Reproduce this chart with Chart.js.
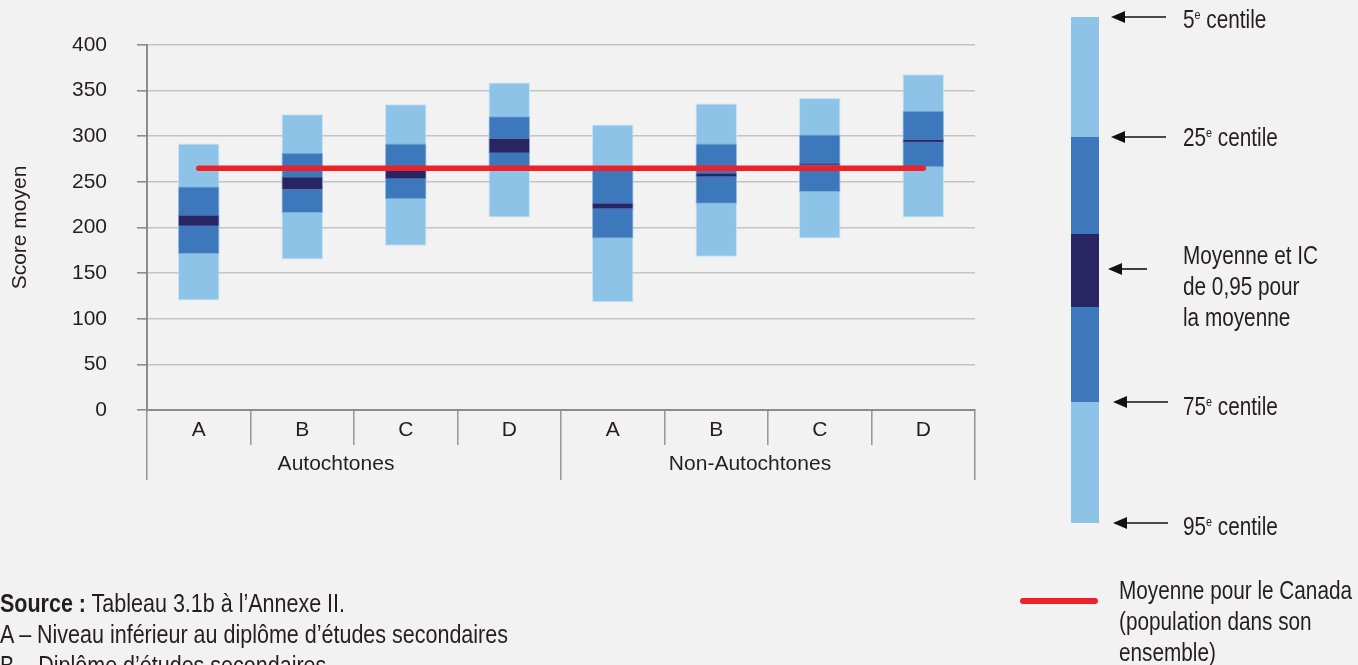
<!DOCTYPE html>
<html lang="fr">
<head>
<meta charset="utf-8">
<script src="https://cdn.jsdelivr.net/npm/chart.js@4.4.1/dist/chart.umd.min.js"></script>
<style>
  body { margin: 0; background: #f2f2f2; font-family: "Liberation Sans", Arial, sans-serif; color: #231f20; }
  #wrap { position: absolute; left: 0; top: 0; width: 1000px; height: 500px; }
  .txt { position: absolute; font-size: 25px; line-height: 31px; white-space: nowrap; transform: scaleX(0.83); transform-origin: 0 0; }
  .txt sup { font-size: 13px; vertical-align: 9px; line-height: 0; }
  .seg { position: absolute; left: 1071px; width: 28px; }
  .notes { position: absolute; left: 0; top: 588px; font-size: 25px; line-height: 31px; white-space: nowrap; transform: scaleX(0.86); transform-origin: 0 0; }
</style>
</head>
<body>
<div id="wrap"><canvas id="scoreChart"></canvas></div>

<!-- legende a droite -->
<div class="seg" style="top:17px;height:120px;background:#8cc3e6"></div>
<div class="seg" style="top:137px;height:97px;background:#3d77bc"></div>
<div class="seg" style="top:234px;height:73px;background:#272662"></div>
<div class="seg" style="top:307px;height:95px;background:#3d77bc"></div>
<div class="seg" style="top:402px;height:121px;background:#8cc3e6"></div>

<svg style="position:absolute;left:0;top:0" width="1358" height="665">
  <g stroke="#111" stroke-width="1.6" fill="#111">
    <line x1="1120" y1="17" x2="1166" y2="17"/><polygon stroke="none" points="1111,17 1125,11 1125,23"/>
    <line x1="1120" y1="137" x2="1166" y2="137"/><polygon stroke="none" points="1111,137 1125,131 1125,143"/>
    <line x1="1117" y1="269" x2="1147" y2="269"/><polygon stroke="none" points="1108,269 1122,263 1122,275"/>
    <line x1="1122" y1="402" x2="1168" y2="402"/><polygon stroke="none" points="1113,402 1127,396 1127,408"/>
    <line x1="1122" y1="523" x2="1168" y2="523"/><polygon stroke="none" points="1113,523 1127,517 1127,529"/>
  </g>
  <line x1="1023" y1="601" x2="1095" y2="601" stroke="#ed2229" stroke-width="6" stroke-linecap="round"/>
</svg>

<div class="txt" style="left:1183px;top:4px">5<sup>e</sup> centile</div>
<div class="txt" style="left:1183px;top:122px">25<sup>e</sup> centile</div>
<div class="txt" style="left:1183px;top:240px">Moyenne et IC<br>de 0,95 pour<br>la moyenne</div>
<div class="txt" style="left:1183px;top:391px">75<sup>e</sup> centile</div>
<div class="txt" style="left:1183px;top:511px">95<sup>e</sup> centile</div>
<div class="txt" style="left:1119px;top:575px">Moyenne pour le Canada<br>(population dans son<br>ensemble)</div>

<div class="notes"><b>Source :</b> Tableau 3.1b à l’Annexe II.<br>A – Niveau inférieur au diplôme d’études secondaires<br>B – Diplôme d’études secondaires</div>

<script>
// Niveaux de scolarite et groupes
const niveaux = ['A', 'B', 'C', 'D', 'A', 'B', 'C', 'D'];
const groupes = ['Autochtones', 'Non-Autochtones'];

// Centiles et intervalle de confiance (score moyen)
const p95 = [292, 324, 335, 359, 313, 336, 342, 368];
const p75 = [245, 282, 292, 322, 263, 292, 302, 328];
const icHaut = [214, 256, 263, 298, 227, 260, 271, 297];
const icBas = [201, 241, 253, 281, 220, 255, 268, 293];
const p25 = [171, 216, 231, 262, 188, 226, 239, 266];
const p5 = [120, 165, 180, 211, 118, 168, 188, 211];

// Moyenne pour le Canada
const moyenneCanada = 265;

const police = "'Liberation Sans', Arial, sans-serif";
const texte = '#231f20';

const pairs = (lo, hi) => lo.map((v, i) => [v, hi[i]]);

const scoreData = {
    labels: niveaux,
    datasets: [
        {
            type: 'line',
            label: 'Moyenne pour le Canada',
            data: niveaux.map(() => moyenneCanada),
            borderColor: '#ed2229',
            borderWidth: 5.5,
            borderCapStyle: 'round',
            pointRadius: 0,
            order: 0
        },
        {
            label: 'IC de 0,95',
            data: pairs(icBas, icHaut),
            backgroundColor: '#272662',
            borderColor: 'rgba(120,110,170,0.5)',
            borderWidth: 1,
            borderSkipped: false,
            grouped: false,
            order: 1
        },
        {
            label: '25e - 75e centile',
            data: pairs(p25, p75),
            backgroundColor: '#3d77bc',
            borderColor: 'rgba(120,160,210,0.7)',
            borderWidth: 1,
            borderSkipped: false,
            grouped: false,
            order: 2
        },
        {
            label: '5e - 95e centile',
            data: pairs(p5, p95),
            backgroundColor: '#8cc3e6',
            borderColor: 'rgba(190,225,245,0.9)',
            borderWidth: 1,
            borderSkipped: false,
            grouped: false,
            order: 3
        }
    ]
};

const scoreConfig = {
    type: 'bar',
    data: scoreData,
    options: {
        responsive: true,
        maintainAspectRatio: false,
        animation: false,
        layout: { padding: { left: 0, top: 45, right: 25, bottom: 20 } },
        datasets: { bar: { categoryPercentage: 1, barPercentage: 0.4 } },
        plugins: { legend: { display: false }, tooltip: { enabled: false } },
        scales: {
            y: {
                min: 0,
                max: 400,
                ticks: { stepSize: 50, padding: 30, color: texte, font: { family: police, size: 21 } },
                grid: { color: '#c4c4c4', lineWidth: 1.6, tickColor: '#8c8c8c', tickLength: 10 },
                border: { color: '#8c8c8c', width: 2 },
                title: {
                    display: true,
                    text: 'Score moyen',
                    color: texte,
                    font: { family: police, size: 21 },
                    padding: { top: 8, bottom: 0 }
                },
                afterFit: (s) => { s.width = 147; }
            },
            x: {
                offset: true,
                weight: 0,
                ticks: { autoSkip: false, maxRotation: 0, padding: -27, color: texte, font: { family: police, size: 21 } },
                grid: { offset: true, drawOnChartArea: false, tickLength: 35, tickColor: '#9a9a9a', lineWidth: 1.6 },
                border: { color: '#8c8c8c', width: 2 },
                afterFit: (s) => { s.height = 35; }
            },
            x2: {
                type: 'category',
                labels: groupes,
                position: 'bottom',
                offset: true,
                weight: 1,
                ticks: { autoSkip: false, maxRotation: 0, padding: -28, labelOffset: -18, color: texte, font: { family: police, size: 21 } },
                grid: { offset: true, drawOnChartArea: false, tickLength: 35, tickColor: '#9a9a9a', lineWidth: 1.6 },
                border: { display: false },
                afterFit: (s) => { s.height = 35; }
            }
        }
    }
};

const scoreChart = new Chart(
    document.getElementById('scoreChart'),
    scoreConfig
);
</script>
</body>
</html>
